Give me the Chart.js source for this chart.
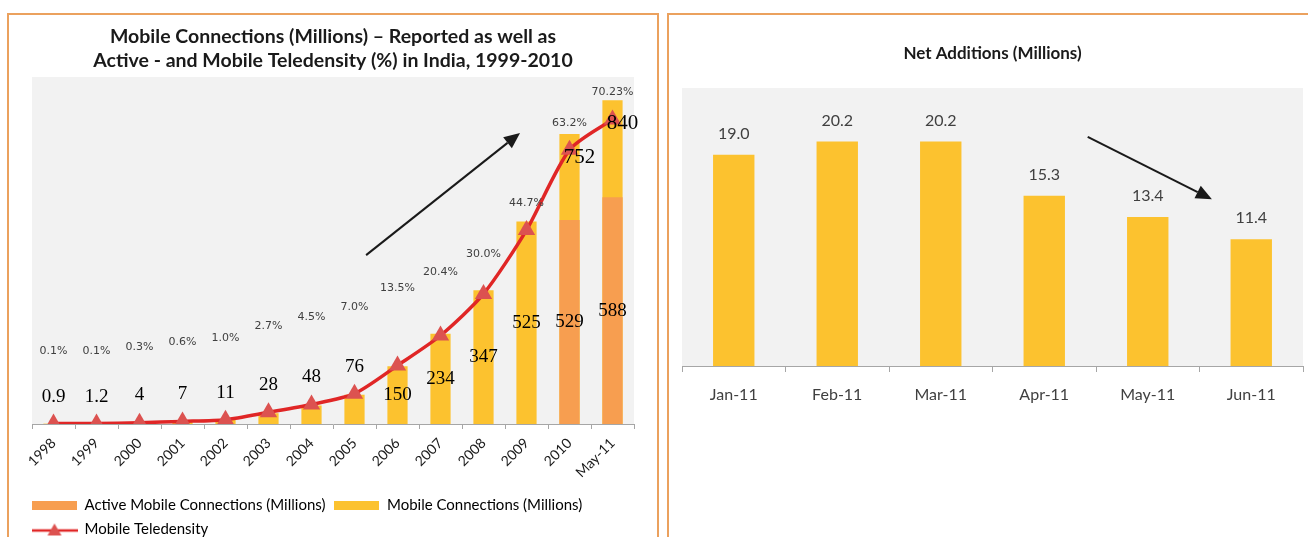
<!DOCTYPE html>
<html>
<head>
<meta charset="utf-8">
<script src="https://cdn.jsdelivr.net/npm/chart.js@4.4.0/dist/chart.umd.min.js"></script>
<style>
  html, body { margin: 0; padding: 0; background: #fff; width: 1308px; height: 537px; overflow: hidden; }
  .panel { position: absolute; top: 13px; height: 600px; border: 2px solid #EBA15E; box-sizing: border-box; }
  .wrap { position: absolute; }
</style>
</head>
<body>
<div class="panel" style="left:7px;width:652px"></div>
<div class="panel" style="left:667px;width:700px"></div>
<div class="wrap" style="left:8px;top:14px;width:650px;height:533px"><canvas id="connChart"></canvas></div>
<div class="wrap" style="left:668px;top:14px;width:640px;height:402px"><canvas id="netChart"></canvas></div>
<script>
// left chart data
const years = ['1998', '1999', '2000', '2001', '2002', '2003', '2004', '2005', '2006', '2007', '2008', '2009', '2010', 'May-11'];
const mobileConnections = [0.9, 1.2, 4, 7, 11, 28, 48, 76, 150, 234, 347, 525, 752, 840];
const activeConnections = [null, null, null, null, null, null, null, null, null, null, null, null, 529, 588];
const teledensity = [0.1, 0.1, 0.3, 0.6, 1.0, 2.7, 4.5, 7.0, 13.5, 20.4, 30.0, 44.7, 63.2, 70.23];

// right chart data
const months = ['Jan-11', 'Feb-11', 'Mar-11', 'Apr-11', 'May-11', 'Jun-11'];
const netAdditions = [19.0, 20.2, 20.2, 15.3, 13.4, 11.4];

const ORANGE = '#F79E50';
const YELLOW = '#FCC22F';
const RED = '#E02626';
const MARKER = '#DC5250';

Chart.defaults.font.family = 'Lato, "Open Sans", sans-serif';

const plotBackground = {
  id: 'plotBackground',
  beforeDraw(chart) {
    const {ctx, chartArea: a} = chart;
    ctx.save();
    ctx.fillStyle = '#F2F2F2';
    ctx.fillRect(a.left, a.top, a.width, a.height);
    ctx.restore();
  }
};

function drawArrow(ctx, x1, y1, x2, y2) {
  const ang = Math.atan2(y2 - y1, x2 - x1);
  const head = 16, half = 7;
  const bx = x2 - head * Math.cos(ang), by = y2 - head * Math.sin(ang);
  ctx.save();
  ctx.strokeStyle = '#1A1A1A';
  ctx.fillStyle = '#1A1A1A';
  ctx.lineWidth = 2;
  ctx.beginPath();
  ctx.moveTo(x1, y1);
  ctx.lineTo(bx, by);
  ctx.stroke();
  ctx.beginPath();
  ctx.moveTo(x2, y2);
  ctx.lineTo(bx + half * Math.sin(ang), by - half * Math.cos(ang));
  ctx.lineTo(bx - half * Math.sin(ang), by + half * Math.cos(ang));
  ctx.closePath();
  ctx.fill();
  ctx.restore();
}

// trend arrows, given in data units (category index, value)
const trendArrow = {
  id: 'trendArrow',
  afterDatasetsDraw(chart, args, opts) {
    const xs = chart.scales.x, ys = chart.scales.y;
    drawArrow(chart.ctx,
      xs.getPixelForValue(opts.from[0]), ys.getPixelForValue(opts.from[1]),
      xs.getPixelForValue(opts.to[0]), ys.getPixelForValue(opts.to[1]));
  }
};

function pctText(v) {
  return (Number.isInteger(Math.round(v * 1000) / 100) ? v.toFixed(1) : String(v)) + '%';
}

const connLabels = {
  id: 'connLabels',
  afterDatasetsDraw(chart) {
    const {ctx} = chart;
    const xs = chart.scales.x, ys = chart.scales.y, ts = chart.scales.y2;
    const axisY = ys.getPixelForValue(0);
    ctx.save();
    ctx.textAlign = 'center';
    ctx.textBaseline = 'middle';
    years.forEach((yr, i) => {
      const x = xs.getPixelForValue(i);
      const lineY = ts.getPixelForValue(teledensity[i]);
      const teleH = axisY - lineY;
      const barTop = ys.getPixelForValue(mobileConnections[i]);
      ctx.fillStyle = '#000';
      if (activeConnections[i] != null) {
        ctx.font = '21px "Liberation Serif", serif';
        ctx.fillText(String(mobileConnections[i]), x + 10, barTop + 23);
        const aTop = ys.getPixelForValue(activeConnections[i]);
        ctx.font = '19px "Liberation Serif", serif';
        ctx.fillText(String(activeConnections[i]), x, (axisY + aTop) / 2);
      } else if (mobileConnections[i] >= 100) {
        ctx.font = '19px "Liberation Serif", serif';
        ctx.fillText(String(mobileConnections[i]), x, (axisY + barTop) / 2);
      } else {
        ctx.font = '19px "Liberation Serif", serif';
        ctx.fillText(String(mobileConnections[i]), x, Math.min(lineY, barTop) - 27);
      }
      ctx.fillStyle = '#404040';
      ctx.font = '11px "DejaVu Sans", sans-serif';
      const lift = Math.max(teleH + 27, 67 + 9 * Math.sqrt(teleH));
      ctx.fillText(pctText(teledensity[i]), x, axisY - lift);
    });
    ctx.restore();
  }
};

const shiftLegend = {
  id: 'shiftLegend',
  afterLayout(chart) {
    chart.legend.left -= 9;
    chart.legend.right -= 9;
  }
};

function swatch(color) {
  const c = document.createElement('canvas');
  c.width = 45; c.height = 9;
  const g = c.getContext('2d');
  g.fillStyle = color;
  g.fillRect(0, 0, 45, 9);
  return c;
}
function lineSwatch() {
  const c = document.createElement('canvas');
  c.width = 46; c.height = 14;
  const g = c.getContext('2d');
  g.strokeStyle = RED;
  g.lineWidth = 2.5;
  g.beginPath(); g.moveTo(0, 8); g.lineTo(46, 8); g.stroke();
  g.fillStyle = MARKER;
  g.beginPath(); g.moveTo(23, 1); g.lineTo(30, 13); g.lineTo(16, 13); g.closePath(); g.fill();
  return c;
}
const legendIcons = [swatch(ORANGE), swatch(YELLOW), lineSwatch()];

new Chart(document.getElementById('connChart'), {
  data: {
    labels: years,
    datasets: [
      {
        type: 'bar',
        label: 'Active Mobile Connections (Millions)',
        data: activeConnections,
        backgroundColor: ORANGE,
        grouped: false,
        barPercentage: 0.47,
        categoryPercentage: 1,
        yAxisID: 'y',
        order: 1
      },
      {
        type: 'bar',
        label: 'Mobile Connections (Millions)',
        data: mobileConnections,
        backgroundColor: YELLOW,
        grouped: false,
        barPercentage: 0.47,
        categoryPercentage: 1,
        yAxisID: 'y',
        order: 2
      },
      {
        type: 'line',
        label: 'Mobile Teledensity',
        data: teledensity,
        borderColor: RED,
        borderWidth: 3.5,
        tension: 0.25,
        pointStyle: 'triangle',
        pointRadius: 10,
        pointBackgroundColor: MARKER,
        pointBorderWidth: 0,
        yAxisID: 'y2',
        order: 0
      }
    ]
  },
  options: {
    responsive: true,
    maintainAspectRatio: false,
    animation: false,
    layout: { padding: { left: 24, right: 24, top: 0, bottom: 0 } },
    scales: {
      x: {
        grid: { offset: true, drawOnChartArea: false, tickLength: 5, color: '#A6A6A6' },
        border: { color: '#A6A6A6' },
        ticks: { autoSkip: false, minRotation: 45, maxRotation: 45, padding: 6, color: '#1A1A1A', font: { size: 14 } },
        afterFit(scale) { scale.height = 65; }
      },
      y: { display: false, min: 0, max: 900 },
      y2: { display: false, min: 0, max: 80 }
    },
    plugins: {
      title: {
        display: true,
        text: ['Mobile Connections (Millions) \u2013 Reported as well as', 'Active - and Mobile Teledensity (%) in India, 1999-2010'],
        color: '#1A1A1A',
        font: { size: 19.5, weight: 'bold', lineHeight: '24px' },
        padding: { top: 11, bottom: 4 }
      },
      legend: {
        position: 'bottom',
        align: 'start',
        labels: {
          usePointStyle: true,
          pointStyleWidth: 45,
          padding: 9,
          color: '#404040',
          font: { size: 15, lineHeight: '14px' },
          generateLabels(chart) {
            return chart.data.datasets.map((ds, i) => ({
              text: ds.label,
              pointStyle: legendIcons[i],
              datasetIndex: i,
              fillStyle: 'transparent',
              strokeStyle: 'transparent',
              lineWidth: 0,
              hidden: false
            }));
          }
        }
      },
      tooltip: { enabled: false },
      trendArrow: { from: [7.27, 438], to: [10.85, 755] }
    }
  },
  plugins: [plotBackground, connLabels, trendArrow, shiftLegend]
});

const netLabels = {
  id: 'netLabels',
  afterDatasetsDraw(chart) {
    const {ctx} = chart;
    const xs = chart.scales.x, ys = chart.scales.y;
    ctx.save();
    ctx.textAlign = 'center';
    ctx.textBaseline = 'middle';
    ctx.fillStyle = '#404040';
    ctx.font = '16px Lato, sans-serif';
    netAdditions.forEach((v, i) => {
      ctx.fillText(v.toFixed(1), xs.getPixelForValue(i), ys.getPixelForValue(v) - 21);
    });
    ctx.restore();
  }
};

new Chart(document.getElementById('netChart'), {
  type: 'bar',
  data: {
    labels: months,
    datasets: [{
      label: 'Net Additions (Millions)',
      data: netAdditions,
      backgroundColor: YELLOW,
      barPercentage: 0.4,
      categoryPercentage: 1
    }]
  },
  options: {
    responsive: true,
    maintainAspectRatio: false,
    animation: false,
    layout: { padding: { left: 14, right: 5, top: 0, bottom: 0 } },
    scales: {
      x: {
        grid: { offset: true, drawOnChartArea: false, tickLength: 6, color: '#A6A6A6' },
        border: { color: '#A6A6A6' },
        ticks: { padding: 13, color: '#404040', font: { size: 16 } },
        afterFit(scale) { scale.height = 50; }
      },
      y: { display: false, min: 0, max: 25 }
    },
    plugins: {
      title: {
        display: true,
        text: 'Net Additions (Millions)',
        color: '#1A1A1A',
        font: { size: 17, weight: 'bold', lineHeight: '18px' },
        padding: { top: 31, bottom: 25 }
      },
      legend: { display: false },
      tooltip: { enabled: false },
      trendArrow: { from: [3.42, 20.6], to: [4.62, 15.0] }
    }
  },
  plugins: [plotBackground, netLabels, trendArrow]
});
</script>
</body>
</html>
